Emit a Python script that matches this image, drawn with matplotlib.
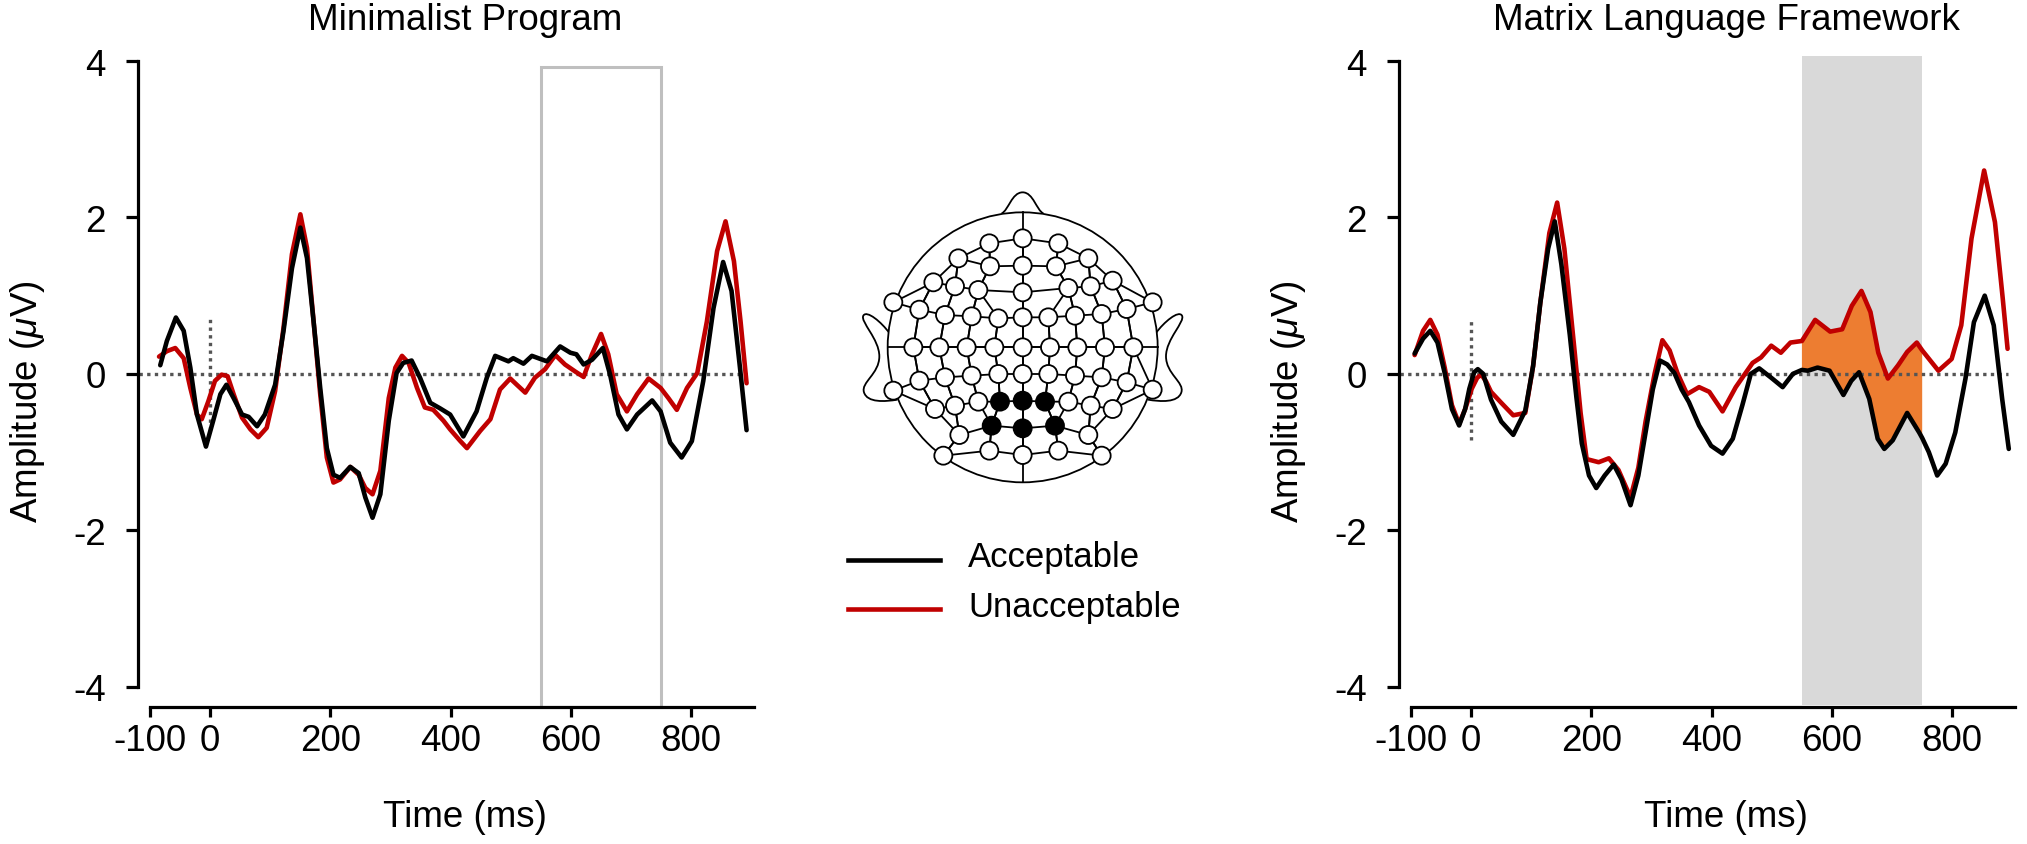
import numpy as np
import matplotlib
matplotlib.use("Agg")
import matplotlib.pyplot as plt
from matplotlib.patches import Rectangle, Circle, PathPatch
from matplotlib.path import Path
from matplotlib.lines import Line2D

plt.rcParams['font.family'] = ['Liberation Sans', 'DejaVu Sans']
plt.rcParams['mathtext.fontset'] = 'custom'
plt.rcParams['mathtext.rm'] = 'Liberation Sans'
plt.rcParams['mathtext.it'] = 'Liberation Sans:italic'

# ---------------- data ----------------
mp_acc_t = [-83, -72, -57, -44, -33, -22, -7, 5, 17, 27, 39, 53, 64, 78, 91, 108, 122, 136, 150, 161,
            172, 183, 194, 205, 216, 233, 247, 258, 270, 283, 297, 310, 321, 335, 349, 366, 382, 399,
            421, 443, 460, 474, 496, 504, 521, 535, 560, 582, 599, 609, 621, 635, 653, 665, 679, 693,
            710, 735, 749, 765, 784, 801, 820, 837, 853, 867, 881, 892]
mp_acc_v = [0.11, 0.42, 0.72, 0.55, 0.08, -0.52, -0.93, -0.60, -0.26, -0.14, -0.31, -0.52, -0.55, -0.67,
            -0.52, -0.14, 0.55, 1.35, 1.87, 1.48, 0.67, -0.18, -0.95, -1.29, -1.33, -1.19, -1.27, -1.58,
            -1.84, -1.54, -0.60, 0.01, 0.14, 0.17, -0.05, -0.37, -0.44, -0.52, -0.80, -0.48, -0.05, 0.23,
            0.16, 0.20, 0.13, 0.23, 0.16, 0.35, 0.27, 0.25, 0.12, 0.18, 0.33, -0.01, -0.52, -0.71, -0.52,
            -0.34, -0.48, -0.88, -1.07, -0.86, -0.09, 0.84, 1.43, 1.06, 0.08, -0.72]

mp_unacc_t = [-85, -72, -58, -44, -33, -22, -14, -3, 8, 19, 29, 39, 53, 67, 80, 94, 108, 122, 136, 150,
              161, 172, 183, 194, 205, 216, 233, 247, 258, 270, 283, 297, 308, 319, 330, 344, 357, 371,
              388, 399, 416, 427, 449, 466, 482, 499, 510, 524, 540, 557, 574, 590, 607, 621, 635, 650,
              662, 676, 693, 710, 729, 749, 762, 776, 793, 810, 826, 843, 857, 871, 882, 892]
mp_unacc_v = [0.22, 0.29, 0.33, 0.20, -0.18, -0.52, -0.58, -0.35, -0.09, -0.01, -0.03, -0.26, -0.56,
              -0.71, -0.81, -0.69, -0.22, 0.59, 1.53, 2.04, 1.61, 0.67, -0.26, -1.07, -1.39, -1.35, -1.19,
              -1.29, -1.46, -1.54, -1.24, -0.31, 0.08, 0.23, 0.14, -0.18, -0.43, -0.46, -0.60, -0.71,
              -0.86, -0.95, -0.73, -0.58, -0.20, -0.06, -0.14, -0.24, -0.05, 0.06, 0.24, 0.12, 0.03,
              -0.04, 0.25, 0.51, 0.25, -0.26, -0.48, -0.26, -0.06, -0.18, -0.31, -0.46, -0.18, 0.01,
              0.67, 1.57, 1.95, 1.44, 0.67, -0.12]

mlf_acc_t = [-94, -80, -68, -56, -44, -32, -20, -10, -3, 5, 11, 20, 33, 50, 70, 90, 103, 115, 128, 139,
             150, 164, 175, 184, 196, 208, 222, 237, 250, 265, 278, 290, 302, 314, 326, 338, 350, 362,
             379, 399, 418, 435, 451, 465, 479, 499, 518, 535, 550, 560, 576, 596, 610, 619, 632, 645,
             662, 676, 687, 701, 725, 745, 750, 761, 775, 789, 805, 822, 836, 854, 869, 883, 894]
mlf_acc_v = [0.26, 0.45, 0.55, 0.40, 0.01, -0.45, -0.66, -0.45, -0.19, 0.02, 0.06, 0.00, -0.33, -0.61,
             -0.78, -0.47, 0.10, 0.91, 1.60, 1.95, 1.40, 0.50, -0.30, -0.89, -1.30, -1.46, -1.30, -1.16,
             -1.35, -1.68, -1.30, -0.75, -0.20, 0.17, 0.12, 0.01, -0.20, -0.36, -0.66, -0.92, -1.02,
             -0.83, -0.40, 0.00, 0.07, -0.05, -0.17, 0.00, 0.05, 0.04, 0.08, 0.04, -0.15, -0.27, -0.09,
             0.02, -0.32, -0.83, -0.96, -0.85, -0.50, -0.75, -0.82, -1.00, -1.30, -1.15, -0.75, -0.06,
             0.66, 1.00, 0.62, -0.32, -0.96]

mlf_unacc_t = [-94, -80, -68, -56, -44, -32, -20, -10, 1, 10, 17, 25, 33, 50, 70, 90, 103, 115, 130, 143,
               155, 172, 182, 192, 212, 229, 245, 265, 278, 290, 305, 318, 330, 343, 359, 379, 396, 418,
               440, 468, 482, 499, 515, 531, 550, 572, 597, 617, 633, 649, 664, 677, 693, 710, 725, 741,
               750, 777, 799, 815, 832, 853, 871, 884, 892]
mlf_unacc_v = [0.24, 0.55, 0.69, 0.50, 0.08, -0.40, -0.64, -0.45, -0.19, -0.05, -0.01, -0.10, -0.23,
               -0.37, -0.53, -0.50, 0.10, 0.91, 1.80, 2.19, 1.60, 0.29, -0.50, -1.09, -1.13, -1.08, -1.23,
               -1.58, -1.20, -0.61, 0.00, 0.43, 0.30, 0.01, -0.26, -0.17, -0.23, -0.48, -0.17, 0.14, 0.21,
               0.36, 0.27, 0.40, 0.42, 0.69, 0.54, 0.57, 0.87, 1.06, 0.79, 0.27, -0.06, 0.11, 0.28, 0.40,
               0.30, 0.04, 0.19, 0.62, 1.73, 2.60, 1.94, 0.96, 0.32]

window = (550, 750)
x_ticks = [-100, 0, 200, 400, 600, 800]
x_ticklabels = ['-100', '0', '200', '400', '600', '800']
y_ticks = [-4, -2, 0, 2, 4]
y_ticklabels = ['-4', '-2', '0', '2', '4']
titles = ['Minimalist Program', 'Matrix Language Framework']
legend_labels = ['Acceptable', 'Unacceptable']

# electrode layout (schematic, head-axes units, y downward)
electrode_rows = [
    [(448, 193), (548, 178), (655, 193)],
    [(355, 238), (450, 262), (548, 260), (648, 262), (745, 238)],
    [(280, 310), (345, 322), (415, 333), (548, 340), (685, 327), (752, 322), (818, 305)],
    [(160, 370), (238, 392), (315, 408), (395, 412), (475, 418), (548, 415), (625, 415), (705, 410),
     (785, 405), (860, 390), (938, 370)],
    [(220, 505), (298, 505), (380, 505), (463, 505), (548, 505), (630, 505), (712, 505), (795, 505),
     (880, 505)],
    [(160, 635), (238, 605), (315, 595), (395, 590), (475, 585), (548, 585), (625, 585), (705, 590),
     (785, 595), (860, 610), (938, 632)],
    [(285, 690), (345, 680), (415, 668), (480, 668), (548, 665), (615, 668), (685, 668), (752, 680),
     (818, 690)],
    [(358, 768), (455, 740), (548, 748), (645, 740), (745, 768)],
    [(310, 830), (448, 815), (548, 828), (655, 815), (785, 830)],
]
selected = {(6, 3), (6, 4), (6, 5), (7, 1), (7, 2), (7, 3)}

BLACK = '#000000'
RED = '#C00000'
ORANGE = '#ED7D31'
W, H = 2027, 845
FS = 26.5
LW = 3.3

fig = plt.figure(figsize=(W / 100, H / 100), dpi=100)

YBOT = -4.26


def style_axes(ax, title):
    ax.set_xlim(-120, 910)
    ax.set_ylim(YBOT, 4.1)
    for s in ['top', 'right']:
        ax.spines[s].set_visible(False)
    ax.spines['left'].set_bounds(-4, 4)
    ax.spines['bottom'].set_bounds(-100, 905)
    for s in ['left', 'bottom']:
        ax.spines[s].set_linewidth(2.3)
    ax.set_xticks(x_ticks)
    ax.set_xticklabels(x_ticklabels)
    ax.set_yticks(y_ticks)
    ax.set_yticklabels(y_ticklabels)
    ax.tick_params(axis='x', length=7.5, width=2.3, pad=4, labelsize=FS)
    ax.tick_params(axis='y', length=9, width=2.3, pad=14, labelsize=FS)
    ax.text(0.528, 1.037, title, transform=ax.transAxes, ha='center', va='baseline', fontsize=FS)
    ax.text(0.528, -0.167, 'Time (ms)', transform=ax.transAxes, ha='center', va='center', fontsize=FS)
    ax.text(-0.179, 0.468, 'Amplitude ($\\mu$V)', transform=ax.transAxes, ha='center', va='center',
            rotation=90, fontsize=FS)
    ax.patch.set_visible(False)


def zero_lines(ax, vlow, vhigh):
    ax.plot([-118, 893], [0, 0], color='#555555', lw=2.4, ls=(0, (1, 1.3)), zorder=2)
    ax.plot([0, 0], [vlow, vhigh], color='#555555', lw=2.4, ls=(0, (1, 1.3)), zorder=2)


# -------- left panel --------
axL = fig.add_axes([138 / W, 1 - 708 / H, 619.4 / W, (708 - 54.2) / H])
style_axes(axL, titles[0])
axL.add_patch(Rectangle((window[0], YBOT), window[1] - window[0], 3.92 - YBOT, fill=False,
                        edgecolor='#BFBFBF', lw=2.2, zorder=1, clip_on=False))
zero_lines(axL, -0.72, 0.71)
axL.plot(mp_unacc_t, mp_unacc_v, color=RED, lw=LW, zorder=3, solid_joinstyle='round', solid_capstyle='round')
axL.plot(mp_acc_t, mp_acc_v, color=BLACK, lw=LW, zorder=4, solid_joinstyle='round', solid_capstyle='round')

# -------- right panel --------
axR = fig.add_axes([1399 / W, 1 - 708 / H, 619.4 / W, (708 - 54.2) / H])
style_axes(axR, titles[1])
axR.add_patch(Rectangle((window[0], -4.24), window[1] - window[0], 4.06 + 4.24,
                        facecolor='#D9D9D9', edgecolor='none', zorder=0))
rt = np.array(mlf_unacc_t); rv = np.array(mlf_unacc_v)
bt = np.array(mlf_acc_t); bv = np.array(mlf_acc_v)
mr = (rt >= window[0]) & (rt <= window[1])
mb = (bt >= window[0]) & (bt <= window[1])
axR.fill(np.concatenate([rt[mr], bt[mb][::-1]]), np.concatenate([rv[mr], bv[mb][::-1]]),
         color=ORANGE, lw=0, zorder=1.5)
zero_lines(axR, -0.85, 0.69)
axR.plot(mlf_unacc_t, mlf_unacc_v, color=RED, lw=LW, zorder=3, solid_joinstyle='round', solid_capstyle='round')
axR.plot(mlf_acc_t, mlf_acc_v, color=BLACK, lw=LW, zorder=4, solid_joinstyle='round', solid_capstyle='round')

# -------- head schematic --------
axH = fig.add_axes([840 / W, 1 - 520 / H, 360 / W, 340 / H])
axH.set_xlim(0, 1080)
axH.set_ylim(1020, 0)
axH.axis('off')
cx, cy, R = 548, 505, 405
lw_h = 1.3
# nose
nose = Path([(485, 103), (505, 95), (515, 40), (548, 40), (580, 40), (590, 95), (610, 103)],
            [Path.MOVETO, Path.CURVE4, Path.CURVE4, Path.CURVE4, Path.CURVE4, Path.CURVE4, Path.CURVE4])
axH.add_patch(PathPatch(nose, facecolor='white', edgecolor='black', lw=lw_h, zorder=1))
# ears
ear_pts = [(148, 462), (125, 430), (80, 392), (70, 410), (60, 428), (118, 480), (118, 532),
           (118, 585), (62, 610), (72, 640), (82, 672), (135, 668), (172, 662)]
ear_codes = [Path.MOVETO] + [Path.CURVE4] * 12
axH.add_patch(PathPatch(Path(ear_pts, ear_codes), facecolor='white', edgecolor='black', lw=lw_h, zorder=1))
ear_pts_r = [(2 * cx - x, y) for x, y in ear_pts]
axH.add_patch(PathPatch(Path(ear_pts_r, ear_codes), facecolor='white', edgecolor='black', lw=lw_h, zorder=1))
axH.add_patch(Circle((cx, cy), R, facecolor='white', edgecolor='black', lw=lw_h, zorder=2))
# mid lines
axH.plot([cx, cx], [cy - R, cy + R], color='black', lw=lw_h, zorder=3)
axH.plot([cx - R, cx + R], [cy, cy], color='black', lw=lw_h, zorder=3)
# mesh connections
for row in electrode_rows:
    xs = [p[0] for p in row]; ys = [p[1] for p in row]
    axH.plot(xs, ys, color='black', lw=lw_h, zorder=3)
for i in range(len(electrode_rows) - 1):
    for a, b in [(electrode_rows[i], electrode_rows[i + 1]), (electrode_rows[i + 1], electrode_rows[i])]:
        for p in a:
            d = [np.hypot(p[0] - q[0], p[1] - q[1]) for q in b]
            j = int(np.argmin(d))
            if d[j] < 140:
                axH.plot([p[0], b[j][0]], [p[1], b[j][1]], color='black', lw=lw_h, zorder=3)
for i, row in enumerate(electrode_rows):
    for j, (x, y) in enumerate(row):
        fc = 'black' if (i, j) in selected else 'white'
        axH.add_patch(Circle((x, y), 27, facecolor=fc, edgecolor='black', lw=lw_h, zorder=4))

# -------- legend --------
for k, (lab, col) in enumerate(zip(legend_labels, [BLACK, RED])):
    yl = [561, 610][k]
    fig.add_artist(Line2D([848 / W, 940 / W], [1 - yl / H, 1 - yl / H], color=col, lw=LW))
    fig.text(968 / W, 1 - (yl - 3) / H, lab, ha='left', va='center', fontsize=25)

fig.savefig('out.png', dpi=100)
